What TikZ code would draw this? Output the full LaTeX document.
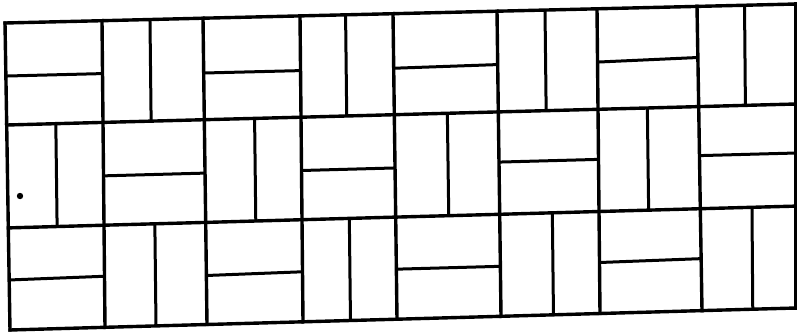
\documentclass[tikz,border=0pt]{standalone}
\usetikzlibrary{calc}
\begin{document}
\begin{tikzpicture}[x=1pt,y=-1pt,
  gridline/.style={line width=3.4pt,line cap=rect,line join=miter},
  splitline/.style={line width=3pt,line cap=butt}]
\useasboundingbox (0,0) rectangle (797,333);
\fill[white] (0,0) rectangle (797,333);
% grid intersections p<col><row>
\coordinate (p00) at (5,23);    \coordinate (p01) at (6.7,125);   \coordinate (p02) at (8.3,227.9); \coordinate (p03) at (10,330);
\coordinate (p10) at (102,20.7);\coordinate (p11) at (103,122.4); \coordinate (p12) at (104,225.2); \coordinate (p13) at (105,327.3);
\coordinate (p20) at (203,18.2);\coordinate (p21) at (204.3,119.7);\coordinate (p22) at (205.7,222.4);\coordinate (p23) at (207,324.5);
\coordinate (p30) at (300,15.9);\coordinate (p31) at (301,117.2); \coordinate (p32) at (302,219.7); \coordinate (p33) at (303,321.8);
\coordinate (p40) at (393,13.7);\coordinate (p41) at (394.3,114.7);\coordinate (p42) at (395.7,217.1);\coordinate (p43) at (397,319.2);
\coordinate (p50) at (497,11.2);\coordinate (p51) at (498.3,111.9);\coordinate (p52) at (499.7,214.3);\coordinate (p53) at (501,316.3);
\coordinate (p60) at (597,8.8); \coordinate (p61) at (598,109.3); \coordinate (p62) at (599,211.5); \coordinate (p63) at (600,313.5);
\coordinate (p70) at (697,6.4); \coordinate (p71) at (698.7,106.6);\coordinate (p72) at (700.3,208.7);\coordinate (p73) at (702,310.6);
\coordinate (p80) at (796,4);   \coordinate (p81) at (796,104);   \coordinate (p82) at (796,206.1); \coordinate (p83) at (796,308);
% row lines
\foreach \j in {0,1,2,3} {
  \draw[gridline] (p0\j) -- (p1\j) -- (p2\j) -- (p3\j) -- (p4\j) -- (p5\j) -- (p6\j) -- (p7\j) -- (p8\j);
}
% column lines
\foreach \i in {0,...,8} {
  \draw[gridline] (p\i0) -- (p\i1) -- (p\i2) -- (p\i3);
}
% horizontal splits: row, left col, right col, left frac, right frac
\foreach \j/\a/\b/\fa/\fb in {0/0/1/0.52/0.52, 0/2/3/0.54/0.54, 0/4/5/0.54/0.53, 0/6/7/0.53/0.51,
                               1/1/2/0.52/0.52, 1/3/4/0.52/0.52, 1/5/6/0.49/0.49, 1/7/8/0.48/0.48,
                               2/0/1/0.51/0.50, 2/2/3/0.52/0.51, 2/4/5/0.51/0.51, 2/6/7/0.50/0.49} {
  \pgfmathtruncatemacro{\k}{\j+1}
  \draw[splitline] ($(p\a\j)!\fa!(p\a\k)$) -- ($(p\b\j)!\fb!(p\b\k)$);
}
% vertical splits: row, left col, right col, frac
\foreach \j/\a/\b/\f in {0/1/2/0.475, 0/3/4/0.49, 0/5/6/0.48, 0/7/8/0.48,
                          1/0/1/0.51, 1/2/3/0.52, 1/4/5/0.51, 1/6/7/0.49,
                          2/1/2/0.50, 2/3/4/0.505, 2/5/6/0.53, 2/7/8/0.54} {
  \pgfmathtruncatemacro{\k}{\j+1}
  \draw[splitline] ($(p\a\j)!\f!(p\b\j)$) -- ($(p\a\k)!\f!(p\b\k)$);
}
% speck
\fill (20,196) circle (3.2);
\end{tikzpicture}
\end{document}
